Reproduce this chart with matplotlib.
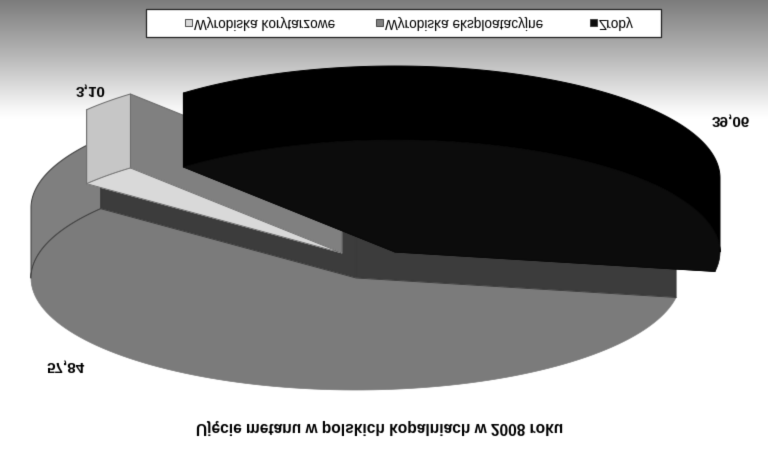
import numpy as np
import matplotlib
matplotlib.use('Agg')
import matplotlib.pyplot as plt
from matplotlib.colors import LinearSegmentedColormap
from matplotlib.patches import Polygon, Rectangle

# the source picture is mirrored top to bottom, so it is drawn upright and flipped at the end
categories = ['Wyrobiska korytarzowe', 'Wyrobiska eksploatacyjne', 'Zroby']
values = [3.10, 57.84, 39.06]
value_labels = ['3,10', '57,84', '39,06']
title = 'Ujęcie metanu w polskich kopalniach w 2008 roku'

face_colors = ['#d9d9d9', '#7b7b7b', '#0c0c0c']
wall_colors = ['#c6c6c6', '#7f7f7f', '#000000']
cut_colors = ['#808080', '#3c3c3c', '#000000']
edge_colors = ['#6a6a6a', '#3a3a3a', '#000000']
centers = [(342, 253), (356, 278), (395, 252)]
depths = [74, 70, 74]
label_pos = [(91, 92), (66, 367), (731, 122)]
legend_x = [185, 376, 590]

RX, RY = 325, 112
START = 10  # angle where the grey slice begins


def arc(cx, cy, a0, a1, n=120):
    t = np.radians(np.linspace(a0, a1, n))
    return np.column_stack([cx + RX * np.cos(t), cy + RY * np.sin(t)])


def draw_slice(ax, i, a0, a1):
    cx, cy = centers[i]
    d = depths[i]
    pts = arc(cx, cy, a0, a1)
    drop = np.array([0, d])
    kw = dict(edgecolor=edge_colors[i], linewidth=0.7, joinstyle='round')

    # cut faces first, then outer wall, top face last
    for p in (pts[0], pts[-1]):
        cut = [(cx, cy), p, p - drop, (cx, cy - d)]
        ax.add_patch(Polygon(cut, facecolor=cut_colors[i], **kw))
    # only the part of the rim that faces the viewer
    w0, w1 = max(a0, 180), min(a1, 360)
    rim = None
    if w1 > w0:
        rim = arc(cx, cy, w0, w1)
        wall = np.vstack([rim, (rim - drop)[::-1]])
        ax.add_patch(Polygon(wall, facecolor=wall_colors[i], **kw))
    top = np.vstack([[(cx, cy)], pts])
    ax.add_patch(Polygon(top, facecolor=face_colors[i], edgecolor=face_colors[i], linewidth=0.5))
    # rim line and radial edges on top, the far arc stays soft
    if rim is not None:
        ax.plot(rim[:, 0], rim[:, 1], color=edge_colors[i], lw=0.6 if i != 2 else 0.2)
    if i != 2:
        ax.plot([pts[0, 0], cx, pts[-1, 0]], [pts[0, 1], cy, pts[-1, 1]], color=edge_colors[i], lw=0.6)


fig = plt.figure(figsize=(7.68, 4.67), dpi=100)
ax = fig.add_axes([0, 0, 1, 1])
ax.set_xlim(0, 768)
ax.set_ylim(0, 467)
ax.axis('off')

# grey fade behind the legend
fade = LinearSegmentedColormap.from_list('fade', [(0, '#7c7c7c'), (0.45, '#b4b4b4'), (0.9, '#f4f4f4'), (1, '#ffffff')])
ax.imshow(np.linspace(0, 1, 256).reshape(-1, 1), extent=(0, 768, 0, 118), origin='lower',
          aspect='auto', cmap=fade, zorder=0)

sweeps = [v / sum(values) * 360 for v in values]
grey_end = START + sweeps[1]
light_end = grey_end + sweeps[0]
black_end = light_end + sweeps[2]
draw_slice(ax, 1, START, grey_end)
draw_slice(ax, 0, grey_end, light_end)
draw_slice(ax, 2, light_end, black_end)

font = ['Liberation Sans', 'DejaVu Sans']
for lab, (x, y) in zip(value_labels, label_pos):
    ax.text(x, y, lab, ha='center', va='center', fontsize=11, fontweight='bold', family=font)
ax.text(380, 428, title, ha='center', va='center', fontsize=11.2, fontweight='bold', family=font)

# legend box
ax.add_patch(Rectangle((146, 10), 515, 28, facecolor='white', edgecolor='#222222', linewidth=0.9, zorder=3))
for i, name in enumerate(categories):
    x = legend_x[i]
    ax.add_patch(Rectangle((x, 20), 7, 7, facecolor=face_colors[i] if i != 1 else wall_colors[i],
                           edgecolor='#333333', linewidth=0.6, zorder=4))
    ax.text(x + 9, 24.5, name, ha='left', va='center', fontsize=9.8, family=font, zorder=4, color='#000000')

fig.canvas.draw()
img = np.asarray(fig.canvas.buffer_rgba())[::-1, :, :3].astype(float)

# the source is a soft scan, a small blur gets closer to it
pad = np.pad(img, ((1, 1), (1, 1), (0, 0)), mode='edge')
soft = (img * 0.6 + (pad[:-2, 1:-1] + pad[2:, 1:-1] + pad[1:-1, :-2] + pad[1:-1, 2:]) * 0.1)
plt.imsave('out.png', soft.clip(0, 255).astype(np.uint8))
